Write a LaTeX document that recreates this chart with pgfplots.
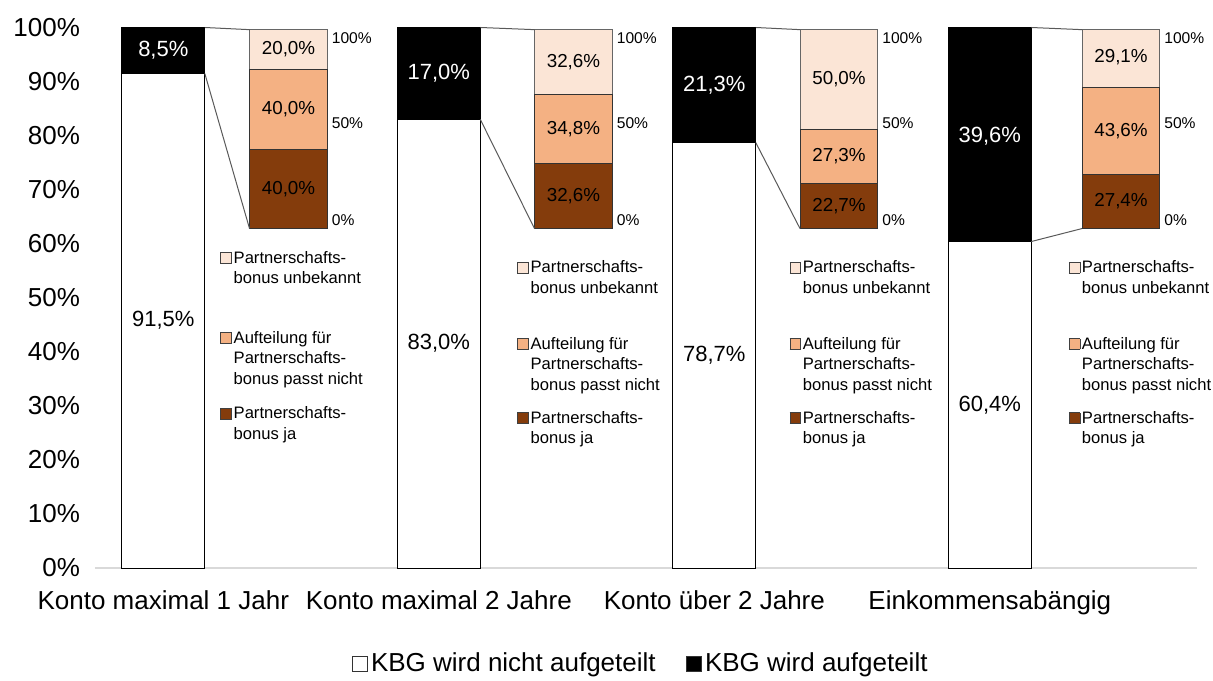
\documentclass[border=0pt]{standalone}
\usepackage{pgfplots}
\pgfplotsset{compat=1.18}
\usepackage{fontspec}
\setmainfont{Liberation Sans}
\definecolor{light}{HTML}{FBE5D6}
\definecolor{mid}{HTML}{F4B183}
\definecolor{dark}{HTML}{843C0C}
\definecolor{axgray}{HTML}{D9D9D9}
\definecolor{congray}{HTML}{595959}
\newcommand{\sqs}[1]{{\setlength{\fboxsep}{0pt}\setlength{\fboxrule}{0.4pt}\fcolorbox{black!75}{#1}{\rule{5pt}{0pt}\rule{0pt}{5pt}}}}
\newcommand{\sqb}[1]{{\setlength{\fboxsep}{0pt}\setlength{\fboxrule}{0.5pt}\fcolorbox{black!80}{#1}{\rule{6.8pt}{0pt}\rule{0pt}{6.8pt}}}}
\newcommand{\legfont}{\fontsize{8.3}{10.3}\selectfont}
\newcommand{\legA}{\sqs{light}\hspace{0.8pt}\begin{tabular}[t]{@{}l@{}}Partnerschafts-\\bonus unbekannt\end{tabular}}
\newcommand{\legB}{\sqs{mid}\hspace{0.8pt}\begin{tabular}[t]{@{}l@{}}Aufteilung für\\Partnerschafts-\\bonus passt nicht\end{tabular}}
\newcommand{\legC}{\sqs{dark}\hspace{0.8pt}\begin{tabular}[t]{@{}l@{}}Partnerschafts-\\bonus ja\end{tabular}}
\pgfplotsset{overlay/.style={at={(0,0)}, anchor=south west, scale only axis, width=551pt, height=270.25pt, xmin=-0.5, xmax=3.5, clip=false}}
\begin{document}
\begin{tikzpicture}
% main bars
\begin{axis}[
  overlay, ymin=0, ymax=100,
  axis x line=bottom, axis y line=left,
  x axis line style={draw=axgray, line width=0.7pt, -},
  y axis line style={draw=none},
  major tick length=0pt,
  ytick={0,10,...,100},
  yticklabel={\pgfmathprintnumber{\tick}\%},
  /pgf/number format/assume math mode=true,
  yticklabel style={font=\fontsize{13}{15.6}\selectfont, xshift=-4pt},
  xtick={-0.252,0.748,1.748,2.748},
  xticklabels={Konto maximal 1 Jahr, Konto maximal 2 Jahre, Konto über 2 Jahre, Einkommensabängig},
  xticklabel style={font=\fontsize{13}{15.6}\selectfont, anchor=base, yshift=-20.5pt},
  ybar stacked, bar width=0.301, bar shift=-0.252,
]
\addplot[fill=white, draw=black, line width=0.5pt] coordinates {(0,91.5) (1,83.0) (2,78.7) (3,60.4)};
\addplot[fill=black, draw=black, line width=0.5pt] coordinates {(0,8.5) (1,17.0) (2,21.3) (3,39.6)};
\end{axis}
% breakdown bars
\begin{axis}[
  overlay, ymin=-170.65, ymax=101.1, hide axis,
  ybar stacked, bar width=0.283, bar shift=0,
]
\addplot[fill=dark, draw=black!80, line width=0.5pt] coordinates {(0.2024,40.0) (1.2368,32.6) (2.2005,22.7) (3.2241,27.4)};
\addplot[fill=mid, draw=black!80, line width=0.5pt] coordinates {(0.2024,40.0) (1.2368,34.8) (2.2005,27.3) (3.2241,43.6)};
\addplot[fill=light, draw=black!60, line width=0.5pt] coordinates {(0.2024,20.0) (1.2368,32.6) (2.2005,50.0) (3.2241,29.1)};
\end{axis}
% labels in main coordinates
\begin{axis}[overlay, ymin=0, ymax=100, hide axis]
\node[font=\fontsize{11}{13}\selectfont] at (axis cs:-0.252,45.75) {91,5\%};
\node[font=\fontsize{11}{13}\selectfont] at (axis cs:0.748,41.5) {83,0\%};
\node[font=\fontsize{11}{13}\selectfont] at (axis cs:1.748,39.35) {78,7\%};
\node[font=\fontsize{11}{13}\selectfont] at (axis cs:2.748,30.2) {60,4\%};
\node[font=\fontsize{11}{13}\selectfont, text=white] at (axis cs:-0.252,95.75) {8,5\%};
\node[font=\fontsize{11}{13}\selectfont, text=white] at (axis cs:0.748,91.5) {17,0\%};
\node[font=\fontsize{11}{13}\selectfont, text=white] at (axis cs:1.748,89.35) {21,3\%};
\node[font=\fontsize{11}{13}\selectfont, text=white] at (axis cs:2.748,79.8) {39,6\%};
% connectors
\draw[congray, line width=0.5pt] (axis cs:-0.1015,100) -- (axis cs:0.0609,99.6);
\draw[congray, line width=0.5pt] (axis cs:-0.1015,91.5) -- (axis cs:0.0609,62.8);
\draw[congray, line width=0.5pt] (axis cs:0.8985,100) -- (axis cs:1.0953,99.6);
\draw[congray, line width=0.5pt] (axis cs:0.8985,83.0) -- (axis cs:1.0953,62.8);
\draw[congray, line width=0.5pt] (axis cs:1.8985,100) -- (axis cs:2.0590,99.6);
\draw[congray, line width=0.5pt] (axis cs:1.8985,78.7) -- (axis cs:2.0590,62.8);
\draw[congray, line width=0.5pt] (axis cs:2.8985,100) -- (axis cs:3.0826,99.6);
\draw[congray, line width=0.5pt] (axis cs:2.8985,60.4) -- (axis cs:3.0826,62.8);
% per-category legends
\node[anchor=base west, inner sep=0pt, font=\legfont] at (axis cs:-0.046,56.4) {\legA};
\node[anchor=base west, inner sep=0pt, font=\legfont] at (axis cs:-0.046,41.6) {\legB};
\node[anchor=base west, inner sep=0pt, font=\legfont] at (axis cs:-0.046,27.6) {\legC};
\node[anchor=base west, inner sep=0pt, font=\legfont] at (axis cs:1.032,54.6) {\legA};
\node[anchor=base west, inner sep=0pt, font=\legfont] at (axis cs:1.032,40.5) {\legB};
\node[anchor=base west, inner sep=0pt, font=\legfont] at (axis cs:1.032,26.8) {\legC};
\node[anchor=base west, inner sep=0pt, font=\legfont] at (axis cs:2.020,54.6) {\legA};
\node[anchor=base west, inner sep=0pt, font=\legfont] at (axis cs:2.020,40.5) {\legB};
\node[anchor=base west, inner sep=0pt, font=\legfont] at (axis cs:2.020,26.8) {\legC};
\node[anchor=base west, inner sep=0pt, font=\legfont] at (axis cs:3.033,54.6) {\legA};
\node[anchor=base west, inner sep=0pt, font=\legfont] at (axis cs:3.033,40.5) {\legB};
\node[anchor=base west, inner sep=0pt, font=\legfont] at (axis cs:3.033,26.8) {\legC};
\end{axis}
% labels in breakdown coordinates
\begin{axis}[overlay, ymin=-170.65, ymax=101.1, hide axis]
\node[font=\fontsize{9.4}{11}\selectfont] at (axis cs:0.2024,20) {40,0\%};
\node[font=\fontsize{9.4}{11}\selectfont] at (axis cs:0.2024,60) {40,0\%};
\node[font=\fontsize{9.4}{11}\selectfont] at (axis cs:0.2024,90) {20,0\%};
\node[font=\fontsize{9.4}{11}\selectfont] at (axis cs:1.2368,16.3) {32,6\%};
\node[font=\fontsize{9.4}{11}\selectfont] at (axis cs:1.2368,50) {34,8\%};
\node[font=\fontsize{9.4}{11}\selectfont] at (axis cs:1.2368,83.7) {32,6\%};
\node[font=\fontsize{9.4}{11}\selectfont] at (axis cs:2.2005,11.35) {22,7\%};
\node[font=\fontsize{9.4}{11}\selectfont] at (axis cs:2.2005,36.35) {27,3\%};
\node[font=\fontsize{9.4}{11}\selectfont] at (axis cs:2.2005,75) {50,0\%};
\node[font=\fontsize{9.4}{11}\selectfont] at (axis cs:3.2241,13.7) {27,4\%};
\node[font=\fontsize{9.4}{11}\selectfont] at (axis cs:3.2241,49.2) {43,6\%};
\node[font=\fontsize{9.4}{11}\selectfont] at (axis cs:3.2241,86.15) {29,1\%};
\node[anchor=west, inner sep=0pt, xshift=2pt, font=\fontsize{7.8}{9}\selectfont] at (axis cs:0.3439,96) {100\%};
\node[anchor=west, inner sep=0pt, xshift=2pt, font=\fontsize{7.8}{9}\selectfont] at (axis cs:0.3439,53) {50\%};
\node[anchor=west, inner sep=0pt, xshift=2pt, font=\fontsize{7.8}{9}\selectfont] at (axis cs:0.3439,4) {0\%};
\node[anchor=west, inner sep=0pt, xshift=2pt, font=\fontsize{7.8}{9}\selectfont] at (axis cs:1.3783,96) {100\%};
\node[anchor=west, inner sep=0pt, xshift=2pt, font=\fontsize{7.8}{9}\selectfont] at (axis cs:1.3783,53) {50\%};
\node[anchor=west, inner sep=0pt, xshift=2pt, font=\fontsize{7.8}{9}\selectfont] at (axis cs:1.3783,4) {0\%};
\node[anchor=west, inner sep=0pt, xshift=2pt, font=\fontsize{7.8}{9}\selectfont] at (axis cs:2.3420,96) {100\%};
\node[anchor=west, inner sep=0pt, xshift=2pt, font=\fontsize{7.8}{9}\selectfont] at (axis cs:2.3420,53) {50\%};
\node[anchor=west, inner sep=0pt, xshift=2pt, font=\fontsize{7.8}{9}\selectfont] at (axis cs:2.3420,4) {0\%};
\node[anchor=west, inner sep=0pt, xshift=2pt, font=\fontsize{7.8}{9}\selectfont] at (axis cs:3.3656,96) {100\%};
\node[anchor=west, inner sep=0pt, xshift=2pt, font=\fontsize{7.8}{9}\selectfont] at (axis cs:3.3656,53) {50\%};
\node[anchor=west, inner sep=0pt, xshift=2pt, font=\fontsize{7.8}{9}\selectfont] at (axis cs:3.3656,4) {0\%};
\end{axis}
% bottom legend
\node[anchor=base west, inner sep=0pt, font=\fontsize{13}{15.6}\selectfont] at (128.5pt,-51.5pt) {\sqb{white}\hspace{1.5pt}KBG wird nicht aufgeteilt};
\node[anchor=base west, inner sep=0pt, font=\fontsize{13}{15.6}\selectfont] at (295.5pt,-51.5pt) {\sqb{black}\hspace{1.5pt}KBG wird aufgeteilt};
\pgfresetboundingbox
\path (-47.5pt,-56pt) rectangle (559pt,284pt);
\end{tikzpicture}
\end{document}
